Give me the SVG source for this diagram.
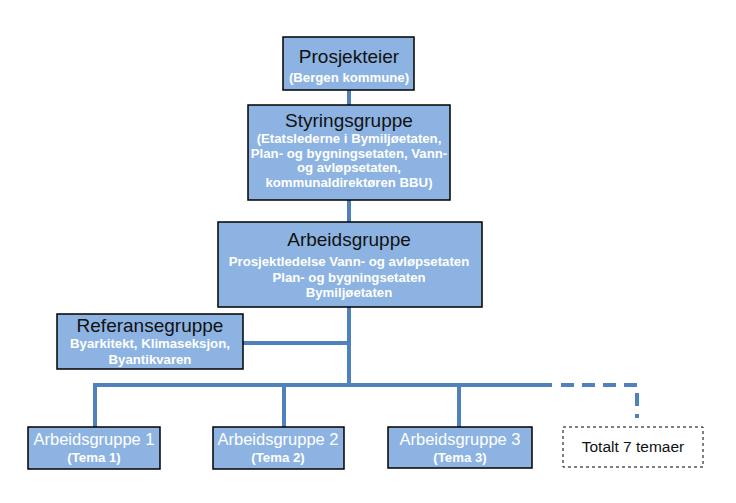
<svg xmlns="http://www.w3.org/2000/svg" width="736" height="503" viewBox="0 0 736 503">
<style>
.box{fill:#8db3e2;stroke:#000;stroke-width:1.5}
.ln{fill:none;stroke:#4f81bd;stroke-width:4}
.dash{fill:none;stroke:#4f81bd;stroke-width:4;stroke-dasharray:13 8}
text{font-family:"Liberation Sans",Arial,sans-serif;text-anchor:middle}
.t{fill:#111;font-size:19px}
.s{fill:#fff;font-size:13.2px;font-weight:bold}
.b{fill:#fff;font-size:16.5px}
</style>
<rect width="736" height="503" fill="#fff"/>
<g id="connectors">
<line class="ln" x1="349" y1="90" x2="349" y2="105"/>
<line class="ln" x1="349" y1="200" x2="349" y2="222"/>
<line class="ln" x1="349" y1="307" x2="349" y2="385"/>
<line class="ln" x1="243" y1="343" x2="349" y2="343"/>
<polyline class="ln" points="95,427 95,385 552,385"/>
<line class="ln" x1="284" y1="385" x2="284" y2="427"/>
<line class="ln" x1="459" y1="385" x2="459" y2="427"/>
<polyline class="dash" points="561,385 637,385 637,418"/>
</g>
<g id="prosjekteier">
<rect class="box" x="283" y="37" width="131" height="53"/>
<text class="t" x="349" y="63">Prosjekteier</text>
<text class="s" x="349" y="82">(Bergen kommune)</text>
</g>
<g id="styringsgruppe">
<rect class="box" x="248" y="105" width="202" height="95"/>
<text class="t" x="349" y="127" font-size="19.5">Styringsgruppe</text>
<text class="s" x="349" y="143">(Etatslederne i Bymiljøetaten,</text>
<text class="s" x="349" y="158">Plan- og bygningsetaten, Vann-</text>
<text class="s" x="349" y="172">og avløpsetaten,</text>
<text class="s" x="349" y="187">kommunaldirektøren BBU)</text>
</g>
<g id="arbeidsgruppe">
<rect class="box" x="218" y="222" width="264" height="85"/>
<text class="t" x="349" y="246">Arbeidsgruppe</text>
<text class="s" x="349" y="266">Prosjektledelse Vann- og avløpsetaten</text>
<text class="s" x="349" y="282">Plan- og bygningsetaten</text>
<text class="s" x="349" y="297">Bymiljøetaten</text>
</g>
<g id="referansegruppe">
<rect class="box" x="57" y="314" width="186" height="55"/>
<text class="t" x="150" y="332" font-size="16.5">Referansegruppe</text>
<text class="s" x="150" y="348">Byarkitekt, Klimaseksjon,</text>
<text class="s" x="150" y="364">Byantikvaren</text>
</g>
<g id="ag1">
<rect class="box" x="28" y="427" width="132" height="42"/>
<text class="b" x="94" y="445">Arbeidsgruppe 1</text>
<text class="s" x="94" y="462">(Tema 1)</text>
</g>
<g id="ag2">
<rect class="box" x="213" y="427" width="131" height="42"/>
<text class="b" x="278" y="445">Arbeidsgruppe 2</text>
<text class="s" x="278" y="462">(Tema 2)</text>
</g>
<g id="ag3">
<rect class="box" x="388" y="427" width="144" height="41"/>
<text class="b" x="460" y="445">Arbeidsgruppe 3</text>
<text class="s" x="460" y="462">(Tema 3)</text>
</g>
<g id="totalt">
<rect x="563" y="427" width="140" height="40" fill="#fff" stroke="#000" stroke-width="1" stroke-dasharray="3 3"/>
<text x="633" y="452" fill="#111" font-size="15.5">Totalt 7 temaer</text>
</g>
</svg>
